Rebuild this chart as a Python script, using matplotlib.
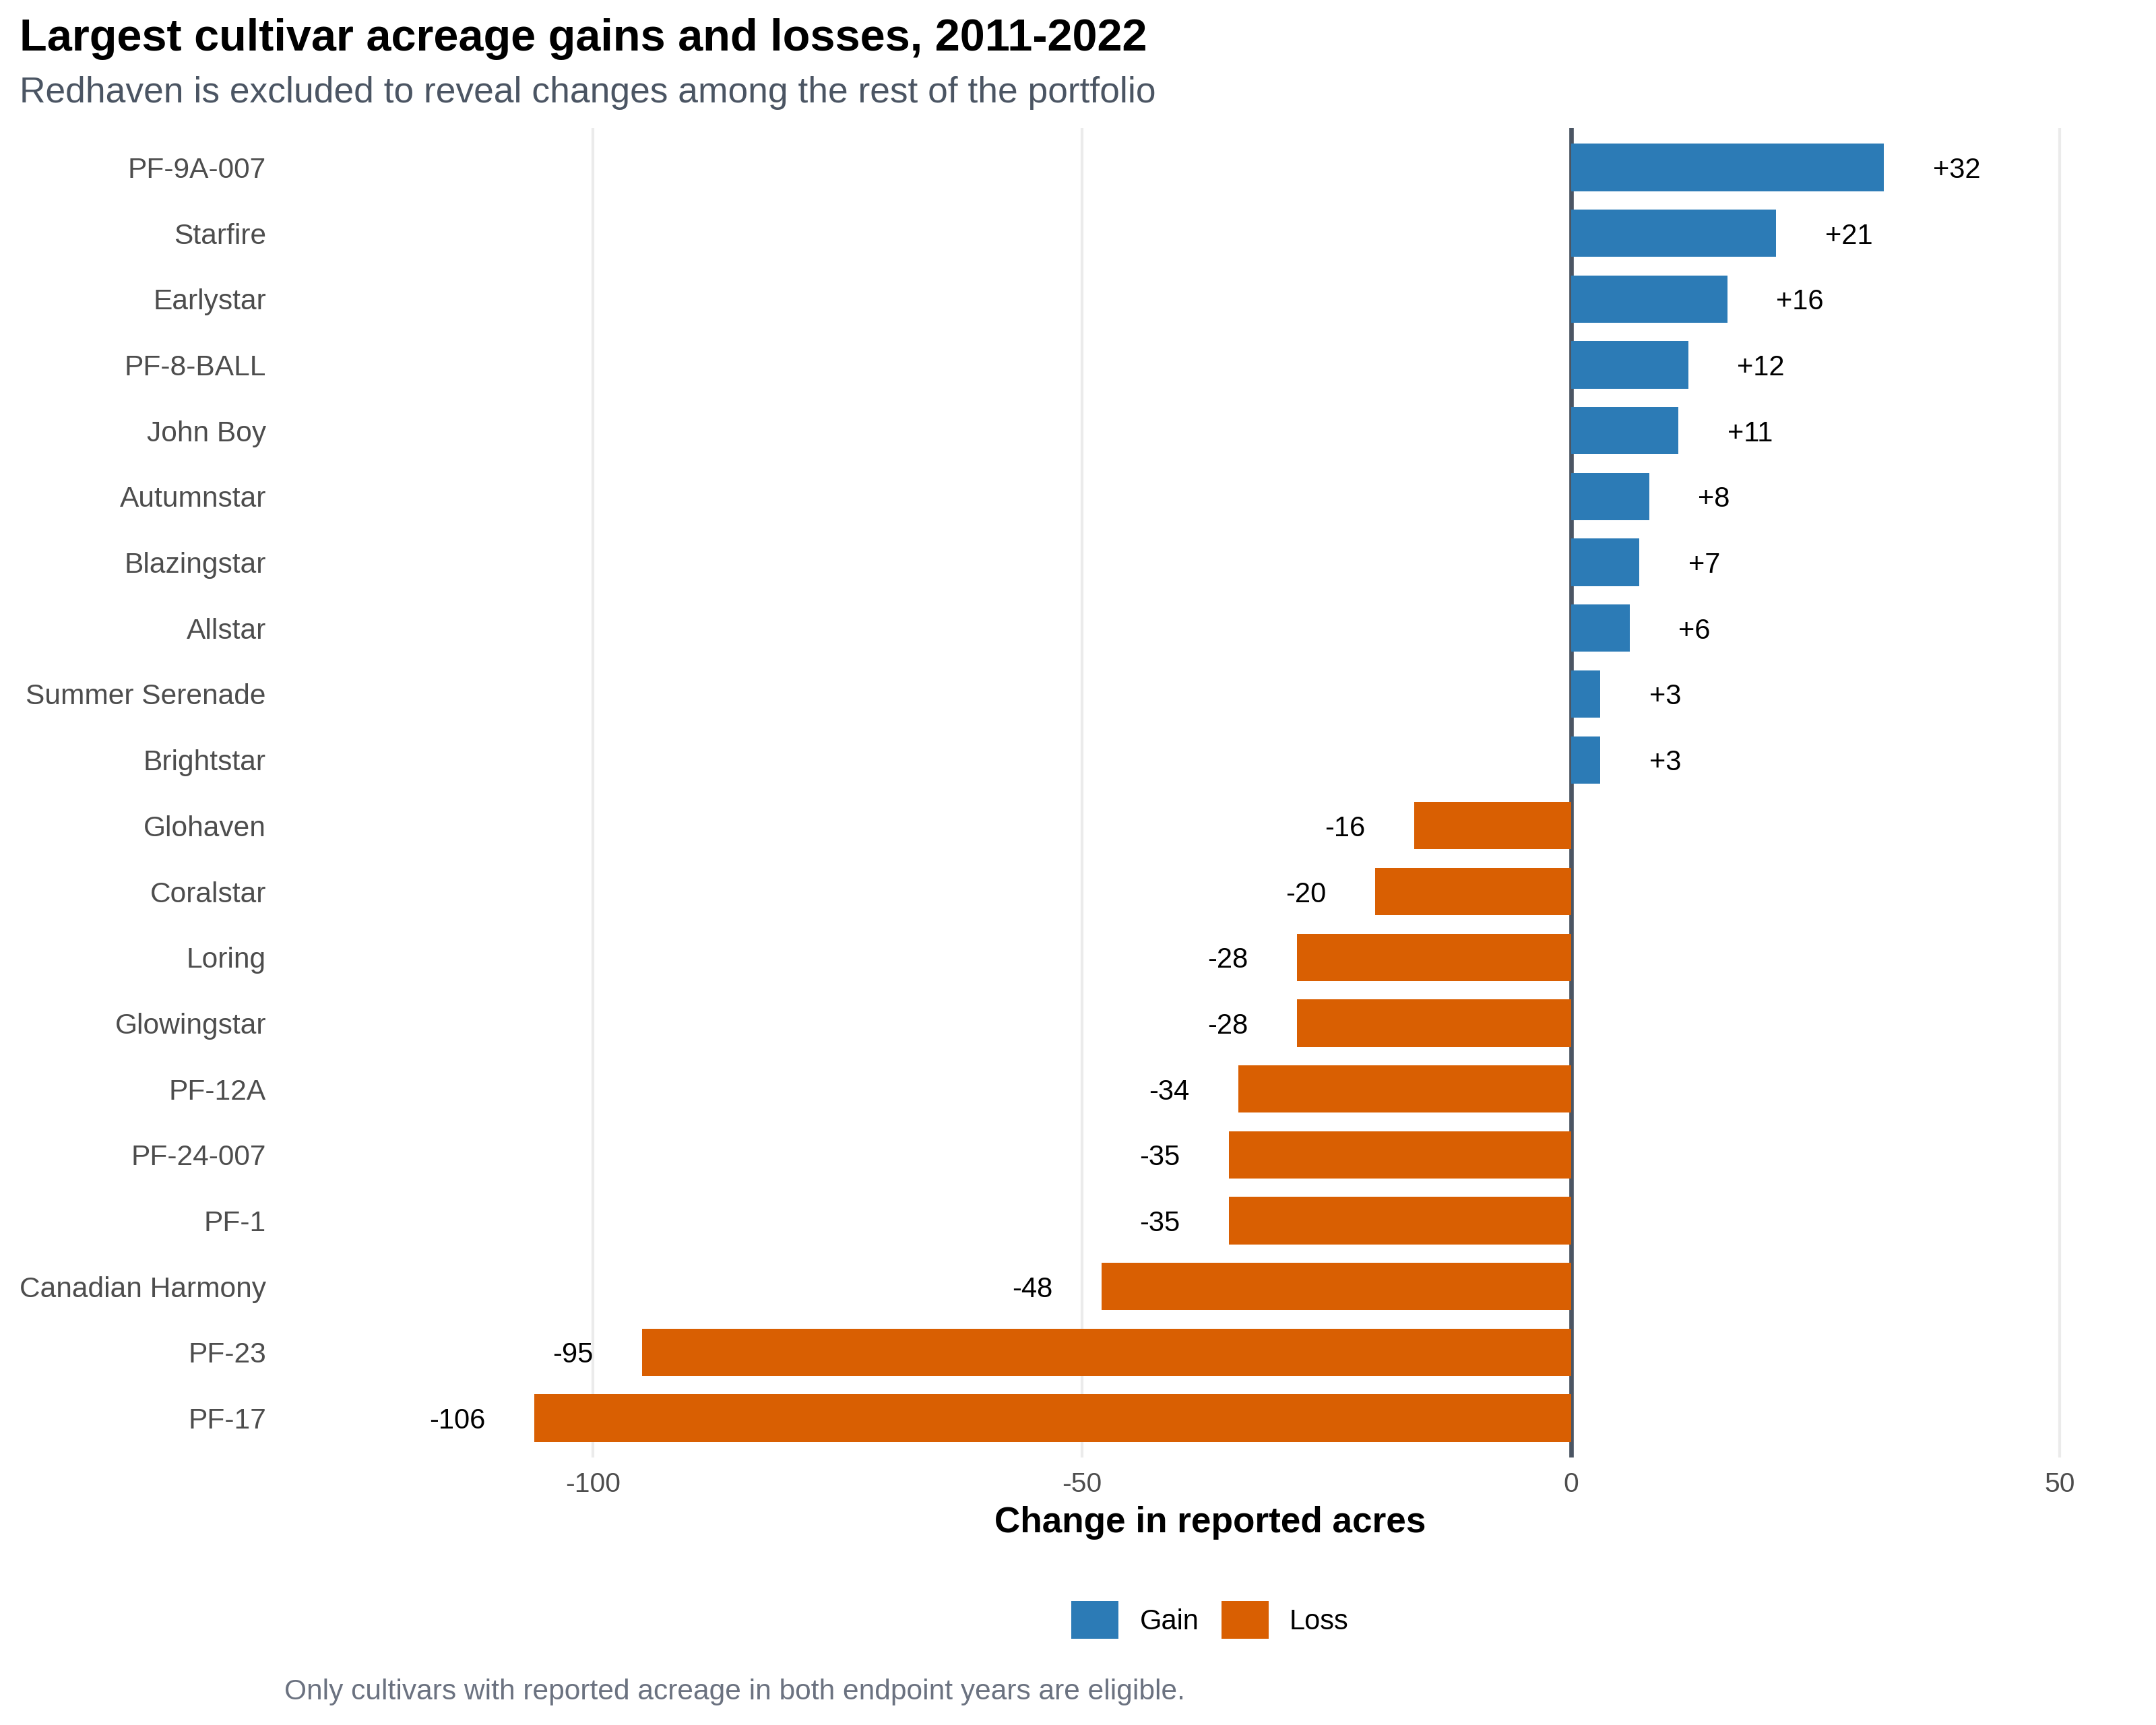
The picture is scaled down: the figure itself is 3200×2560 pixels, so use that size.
import matplotlib
matplotlib.use("Agg")
import matplotlib.pyplot as plt
from matplotlib.patches import Patch

plt.rcParams['font.family'] = ['Liberation Sans', 'DejaVu Sans']
plt.rcParams['axes.unicode_minus'] = False

# cultivars top to bottom, change in reported acres 2011 -> 2022
cultivars = ['PF-9A-007', 'Starfire', 'Earlystar', 'PF-8-BALL', 'John Boy',
             'Autumnstar', 'Blazingstar', 'Allstar', 'Summer Serenade', 'Brightstar',
             'Glohaven', 'Coralstar', 'Loring', 'Glowingstar', 'PF-12A',
             'PF-24-007', 'PF-1', 'Canadian Harmony', 'PF-23', 'PF-17']
change = [32, 21, 16, 12, 11, 8, 7, 6, 3, 3,
          -16, -20, -28, -28, -34, -35, -35, -48, -95, -106]
x_ticks = [-100, -50, 0, 50]

GAIN = '#2c7bb6'
LOSS = '#d95f02'

fig = plt.figure(figsize=(3200 / 300, 2560 / 300), dpi=300)
ax = fig.add_axes([420 / 3200, 1 - 2163 / 2560, 2752 / 3200, 1973 / 2560])

ypos = list(range(len(cultivars)))
colors = [GAIN if v > 0 else LOSS for v in change]

# grid + zero line under the bars
for t in x_ticks:
    ax.axvline(t, color='#ebebeb', lw=1.0, zorder=0)
ax.axvline(0, color='#4b5563', lw=1.6, zorder=1)

ax.barh(ypos, change, height=0.72, color=colors, zorder=2)

for y, v in zip(ypos, change):
    if v > 0:
        ax.text(v + 5, y, f'+{v}', ha='left', va='center_baseline', fontsize=10, color='black')
    else:
        ax.text(v - 5, y, f'{v}', ha='right', va='center_baseline', fontsize=10, color='black')

ax.set_xlim(-131.7, 57.9)
ax.set_ylim(len(cultivars) - 1 + 0.6, -0.6)
ax.set_xticks(x_ticks)
ax.set_xticklabels([str(t) for t in x_ticks])
ax.set_yticks(ypos)
ax.set_yticklabels(cultivars)
ax.tick_params(axis='both', length=0, labelcolor='#4d4d4d')
ax.tick_params(axis='x', pad=5, labelsize=9.8)
ax.tick_params(axis='y', pad=6, labelsize=10.2)
for s in ax.spines.values():
    s.set_visible(False)

ax.set_xlabel('Change in reported acres', fontsize=12.75, fontweight='bold', va='baseline')
ax.xaxis.set_label_coords(0.5, (2163 - 2274) / 1973)

fig.text(29 / 3200, 1 - 75 / 2560, 'Largest cultivar acreage gains and losses, 2011-2022',
         fontsize=16, fontweight='bold', ha='left', va='baseline', color='black')
fig.text(29 / 3200, 1 - 152 / 2560, 'Redhaven is excluded to reveal changes among the rest of the portfolio',
         fontsize=12.8, ha='left', va='baseline', color='#4b5563')
fig.text(422 / 3200, 1 - 2522 / 2560,
         'Only cultivars with reported acreage in both endpoint years are eligible.',
         fontsize=10.2, ha='left', va='baseline', color='#6b7280')

handles = [Patch(facecolor=GAIN, label='Gain'), Patch(facecolor=LOSS, label='Loss')]
fig.legend(handles=handles, loc='center', bbox_to_anchor=(1796 / 3200, 1 - 2404 / 2560),
           ncol=2, frameon=False, fontsize=10, handlelength=1.68, handleheight=1.68,
           handletextpad=0.75, columnspacing=0.8, borderaxespad=0)

fig.savefig('out.png', dpi=300)
